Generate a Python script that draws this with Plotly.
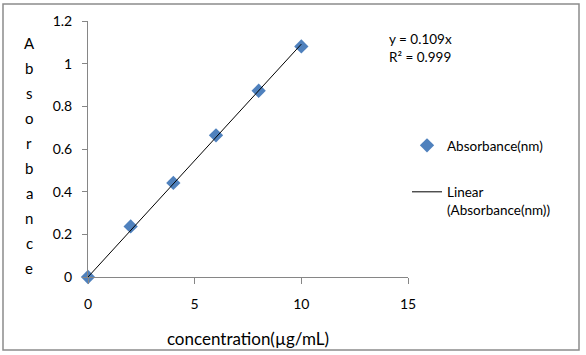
import numpy as np
import plotly.graph_objects as go

concentration = [0, 2, 4, 6, 8, 10]
absorbance = [0.0, 0.237, 0.441, 0.664, 0.873, 1.081]
x_ticks = [0, 5, 10, 15]
y_ticks = [0, 0.2, 0.4, 0.6, 0.8, 1.0, 1.2]
y_tick_text = ["0", "0.2", "0.4", "0.6", "0.8", "1", "1.2"]

xa = np.array(concentration, dtype=float)
ya = np.array(absorbance, dtype=float)
slope = float((xa * ya).sum() / (xa * xa).sum())
fit_x = [min(concentration), max(concentration)]
fit_y = [slope * v for v in fit_x]

W, H = 586, 355
L, R, T, B = 88, 178, 21, 78
pw, ph = W - L - R, H - T - B

FONT = "Lato"
TXT = "#000000"
AX = "#868686"

fig = go.Figure()
fig.add_trace(go.Scatter(
    x=concentration, y=absorbance, mode="markers", name="Absorbance(nm)",
    marker=dict(symbol="diamond", size=11, color="#4F81BD"),
    cliponaxis=False, legendgroup="a",
))
fig.add_trace(go.Scatter(
    x=fit_x, y=fit_y, mode="lines", name="Linear<br>(Absorbance(nm))",
    line=dict(color="#000000", width=1), cliponaxis=False, legendgroup="b",
))

# vertical stacked y-axis title
letters = "Absorbance"
annotations = []
for i, ch in enumerate(letters):
    py = 43 + i * 25
    annotations.append(dict(
        text=ch, x=(29 - L) / pw, y=(T + ph - py) / ph, xref="paper", yref="paper",
        showarrow=False, xanchor="center", yanchor="middle",
        font=dict(family=FONT, size=15, color=TXT),
    ))
annotations.append(dict(
    text="y = 0.109x<br>R² = 0.999", x=(387 - L) / pw, y=(T + ph - 29) / ph,
    xref="paper", yref="paper", showarrow=False, xanchor="left", yanchor="top",
    align="left", font=dict(family=FONT, size=13.5, color=TXT),
))

fig.update_layout(
    width=W, height=H,
    margin=dict(l=L, r=R, t=T, b=B, autoexpand=False),
    paper_bgcolor="white", plot_bgcolor="white",
    font=dict(family=FONT, size=13, color=TXT),
    showlegend=True,
    legend=dict(
        xref="container", yref="container", x=407 / W, y=1 - 130 / H,
        xanchor="left", yanchor="top", traceorder="grouped", tracegroupgap=26,
        valign="top",
        font=dict(family=FONT, size=13.5, color=TXT), bgcolor="rgba(0,0,0,0)",
    ),
    annotations=annotations,
    shapes=[dict(
        type="rect", xref="paper", yref="paper",
        x0=(3 - L) / pw, x1=(579 - L) / pw,
        y0=(T + ph - 350) / ph, y1=(T + ph - 4) / ph,
        line=dict(color="#8c8c8c", width=1.5), fillcolor="rgba(0,0,0,0)", layer="below",
    )],
    xaxis=dict(
        range=[0, 15], tickvals=x_ticks, ticktext=[str(v) for v in x_ticks],
        showgrid=False, zeroline=False, showline=True, linecolor=AX, linewidth=1,
        ticks="outside", ticklen=6, tickcolor=AX, ticklabelstandoff=8,
        title=dict(text="concentration(µg/mL)", font=dict(family=FONT, size=17, color=TXT), standoff=22),
        tickfont=dict(family=FONT, size=14, color=TXT),
    ),
    yaxis=dict(
        range=[0, 1.2], tickvals=y_ticks, ticktext=y_tick_text,
        showgrid=False, zeroline=False, showline=True, linecolor=AX, linewidth=1,
        ticks="outside", ticklen=5, tickcolor=AX, ticklabelstandoff=7,
        tickfont=dict(family=FONT, size=14, color=TXT),
    ),
)

fig.write_html("out.html")
